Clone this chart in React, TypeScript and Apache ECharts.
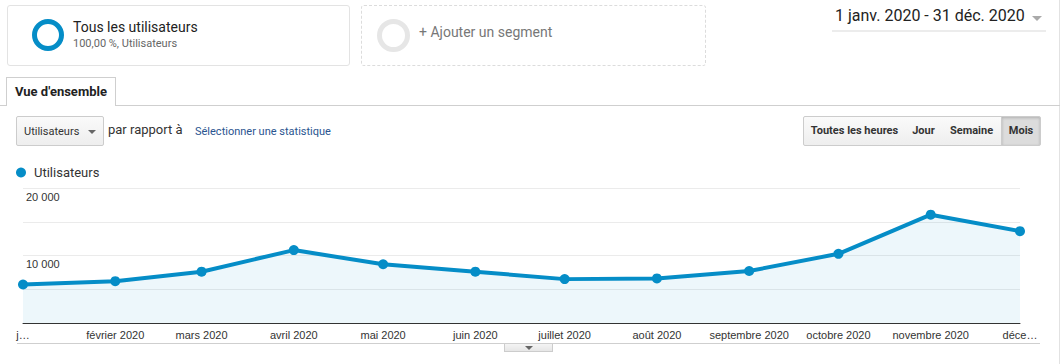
import React, { useEffect, useRef } from "react";
import * as echarts from "echarts";

const monthStarts = [
  "2020-01-01", "2020-02-01", "2020-03-01", "2020-04-01", "2020-05-01", "2020-06-01",
  "2020-07-01", "2020-08-01", "2020-09-01", "2020-10-01", "2020-11-01", "2020-12-01",
];
const monthLabels = [
  "j…", "février 2020", "mars 2020", "avril 2020", "mai 2020", "juin 2020",
  "juillet 2020", "août 2020", "septembre 2020", "octobre 2020", "novembre 2020", "déce…",
];
const users = [5700, 6200, 7600, 10800, 8700, 7600, 6500, 6600, 7700, 10250, 16050, 13600];
const yLabelValues = [10000, 20000];
const seriesName = "Utilisateurs";

const DAY = 86400000;
const t0 = Date.parse(monthStarts[0]);
const offsets = monthStarts.map((d) => Math.round((Date.parse(d) - t0) / DAY));

const fmtThousands = (v: number) => String(v).replace(/\B(?=(\d{3})+(?!\d))/g, " ");

const BLUE = "#058dc7";

function Chart() {
  const ref = useRef<HTMLDivElement>(null);
  useEffect(() => {
    if (!ref.current) return;
    const chart = echarts.init(ref.current, undefined, { renderer: "svg" });
    chart.setOption({
      animation: false,
      legend: {
        data: [{ name: seriesName, icon: "circle" }],
        left: 11,
        top: 161,
        itemWidth: 10,
        itemHeight: 10,
        textStyle: { fontSize: 13, color: "#333", fontFamily: "Roboto", padding: [0, 0, 0, 3] },
      },
      grid: { left: 23, right: 42, top: 188, bottom: 41 },
      xAxis: {
        type: "value",
        min: 0,
        max: offsets[offsets.length - 1],
        axisLine: { show: true, lineStyle: { color: "#333", width: 1 } },
        axisTick: { show: false },
        splitLine: { show: false },
        axisLabel: {
          customValues: offsets,
          showMinLabel: true,
          showMaxLabel: true,
          hideOverlap: false,
          formatter: (v: number) => monthLabels[offsets.indexOf(v)] ?? "",
          color: "#333",
          fontSize: 11,
          fontFamily: "Liberation Sans, Arial",
          margin: 6,
        },
      },
      yAxis: {
        type: "value",
        min: 0,
        max: 20000,
        interval: 5000,
        axisLine: { show: false },
        axisTick: { show: false },
        splitLine: { show: true, lineStyle: { color: "#ebebeb", width: 1 } },
        axisLabel: {
          inside: true,
          showMaxLabel: true,
          formatter: (v: number) => (yLabelValues.includes(v) ? fmtThousands(v) : ""),
          verticalAlign: "top",
          align: "left",
          margin: 3,
          padding: [3, 0, 0, 0],
          color: "#333",
          fontSize: 11,
          fontFamily: "Liberation Sans, Arial",
        },
      },
      series: [
        {
          name: seriesName,
          type: "line",
          data: offsets.map((o, i) => [o, users[i]]),
          symbol: "circle",
          symbolSize: 10,
          itemStyle: { color: BLUE },
          lineStyle: { color: BLUE, width: 4 },
          areaStyle: { color: "rgba(5,141,199,0.1)" },
          z: 3,
        },
      ],
    });
    return () => chart.dispose();
  }, []);
  return <div ref={ref} style={{ position: "absolute", left: 0, top: 0, width: 1062, height: 364 }} />;
}

const abs = (s: React.CSSProperties): React.CSSProperties => ({ position: "absolute", ...s });

const btnBase: React.CSSProperties = {
  position: "absolute",
  top: 116,
  height: 30,
  boxSizing: "border-box",
  border: "1px solid #ccc",
  background: "linear-gradient(#fafafa, #eeeeee)",
  fontFamily: "Roboto",
  fontWeight: "bold",
  fontSize: 11,
  color: "#333",
  lineHeight: "28px",
  textAlign: "center",
};

export default function App() {
  return (
    <div
      style={{
        position: "absolute",
        left: 0,
        top: 0,
        width: 1062,
        height: 364,
        overflow: "hidden",
        background: "#fff",
        fontFamily: "Roboto",
      }}
    >
      <Chart />
      {/* segment box 1 */}
      <div style={abs({ left: 7, top: 5, width: 343, height: 61, boxSizing: "border-box", border: "1px solid #e3e3e3", borderRadius: 3 })} />
      <div style={abs({ left: 32, top: 19, width: 32, height: 32, boxSizing: "border-box", border: `5px solid ${BLUE}`, borderRadius: "50%" })} />
      <div style={abs({ left: 73, top: 20, fontSize: 14, lineHeight: "14px", color: "#222", whiteSpace: "nowrap" })}>Tous les utilisateurs</div>
      <div style={abs({ left: 73, top: 37.5, fontSize: 11, lineHeight: "11px", color: "#666", whiteSpace: "nowrap" })}>100,00 %, Utilisateurs</div>
      {/* segment box 2 */}
      <div style={abs({ left: 361, top: 5, width: 345, height: 61, boxSizing: "border-box", border: "1px dashed #dcdcdc", borderRadius: 3 })} />
      <div style={abs({ left: 377, top: 19, width: 33, height: 33, boxSizing: "border-box", border: "5px solid #e6e6e6", borderRadius: "50%" })} />
      <div style={abs({ left: 419, top: 24.5, fontSize: 14, lineHeight: "14px", color: "#777", whiteSpace: "nowrap" })}>+ Ajouter un segment</div>
      {/* date */}
      <div style={abs({ left: 835, top: 8, fontSize: 16, lineHeight: "16px", color: "#222", whiteSpace: "nowrap" })}>1 janv. 2020 - 31 déc. 2020</div>
      <div style={abs({ left: 1032, top: 16, width: 0, height: 0, borderLeft: "5px solid transparent", borderRight: "5px solid transparent", borderTop: "5px solid #aaa" })} />
      <div style={abs({ left: 832, top: 30, width: 214, height: 2, background: "#ececec" })} />
      {/* right border */}
      <div style={abs({ left: 1059, top: 0, width: 1, height: 364, background: "#e2e2e2" })} />
      {/* tab */}
      <div style={abs({ left: 0, top: 105, width: 1060, height: 1, background: "#cfcfcf" })} />
      <div style={abs({ left: 6, top: 77, width: 110, height: 29, boxSizing: "border-box", border: "1px solid #cfcfcf", borderBottom: "none", background: "#fff" })} />
      <div style={abs({ left: 15, top: 84.5, fontSize: 13, lineHeight: "13px", fontWeight: "bold", color: "#222", whiteSpace: "nowrap" })}>Vue d'ensemble</div>
      {/* metric selector */}
      <div style={abs({ left: 16, top: 116, width: 88, height: 30, boxSizing: "border-box", border: "1px solid #ccc", borderRadius: 2, background: "linear-gradient(#fafafa, #eeeeee)" })} />
      <div style={abs({ left: 24, top: 125.5, fontSize: 11, lineHeight: "11px", color: "#333", whiteSpace: "nowrap" })}>Utilisateurs</div>
      <div style={abs({ left: 88, top: 130, width: 0, height: 0, borderLeft: "4px solid transparent", borderRight: "4px solid transparent", borderTop: "4px solid #666" })} />
      <div style={abs({ left: 108, top: 123, fontSize: 13, lineHeight: "13px", color: "#333", whiteSpace: "nowrap" })}>par rapport à</div>
      <div style={abs({ left: 195, top: 125.5, fontSize: 11, lineHeight: "11px", color: "#2a5590", whiteSpace: "nowrap" })}>Sélectionner une statistique</div>
      {/* granularity buttons */}
      <div style={{ ...btnBase, left: 803, width: 103, borderRadius: "2px 0 0 2px" }}>Toutes les heures</div>
      <div style={{ ...btnBase, left: 905, width: 38, borderLeft: "none" }}>Jour</div>
      <div style={{ ...btnBase, left: 942, width: 60, borderLeft: "none" }}>Semaine</div>
      <div
        style={{
          ...btnBase,
          left: 1001,
          width: 40,
          borderRadius: "0 2px 2px 0",
          background: "#dcdcdc",
          boxShadow: "inset 0 1px 3px rgba(0,0,0,0.2)",
        }}
      >
        Mois
      </div>
      {/* bottom */}
      <div style={abs({ left: 17, top: 343, width: 1023, height: 1, background: "#cfcfcf" })} />
      <div style={abs({ left: 504, top: 344, width: 49, height: 8, boxSizing: "border-box", border: "1px solid #ccc", borderTop: "none", background: "linear-gradient(#f4f4f4, #e6e6e6)" })} />
      <div style={abs({ left: 525, top: 346, width: 0, height: 0, borderLeft: "4px solid transparent", borderRight: "4px solid transparent", borderTop: "4px solid #666" })} />
    </div>
  );
}
